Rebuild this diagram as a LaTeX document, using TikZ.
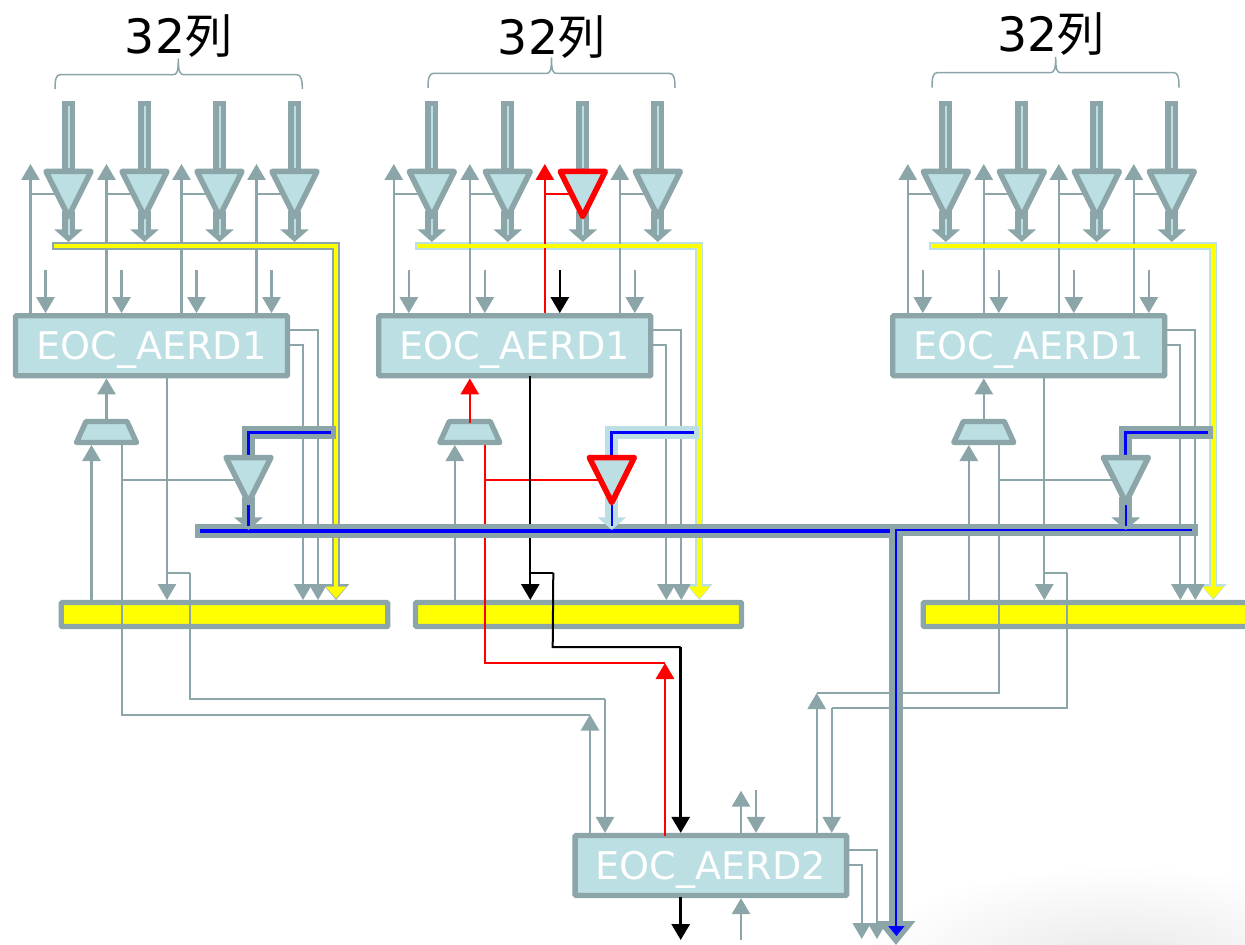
\documentclass[tikz,border=0pt]{standalone}
\usepackage{fontspec}
\setmainfont{DejaVu Sans}
\newfontfamily\cjkf{Noto Sans CJK JP}
\usetikzlibrary{arrows.meta,shapes.geometric}
\newdimen\px \px=0.75pt
\newcommand\dotbox{\phantom{\rule{1pt}{1pt}}}
\definecolor{gc}{HTML}{8BA5A8}
\definecolor{lb}{HTML}{BBDFE2}
\definecolor{yl}{RGB}{255,255,0}
\definecolor{rd}{RGB}{255,0,0}
\definecolor{bl}{RGB}{0,0,255}
\pgfdeclarelayer{bgl}\pgfdeclarelayer{ybus}\pgfdeclarelayer{busl}\pgfdeclarelayer{overl}\pgfdeclarelayer{tril}
\pgfsetlayers{bgl,ybus,main,busl,overl,tril}
\tikzset{
  box/.style={rectangle,draw=gc,fill=lb,line width=5.3\px,rounded corners=1\px,minimum width=272\px,minimum height=60\px,inner sep=0pt,
    text=white,font=\fontsize{28.6pt}{30pt}\selectfont,text height=20.25pt,text depth=0pt},
  ybar/.style={rectangle,draw=gc,fill=yl,line width=5.3\px,rounded corners=1\px,minimum width=326.5\px,minimum height=24\px,inner sep=0pt},
  mux/.style={trapezium,trapezium stretches,trapezium left angle=77,trapezium right angle=77,draw=gc,fill=lb,line width=5.3\px,line join=round,
    minimum width=60\px,minimum height=21\px,inner sep=0pt,outer sep=0pt},
  tribuf/.style={isosceles triangle,isosceles triangle stretches,shape border rotate=-90,minimum width=45\px,minimum height=45\px,
    inner sep=0pt,outer sep=0pt,fill=lb,draw=#1,line width=5.5\px,line join=round,anchor=lower side},
  arr/.style={draw=#1,line width=2.3\px,-{Triangle[length=12pt,width=13.6pt]}},
  arr/.default=gc,
  wire/.style={draw=#1,line width=2\px},
  wire/.default=gc,
  thickw/.style={draw=gc,line width=13\px},
  thicka/.style={draw=#1,line width=13\px,shorten <=-4pt,-{Triangle[length=9.5pt,width=21pt]}},
  stripe/.style={draw=#1,line width=2\px},
  brace/.style={draw=gc,line width=1.5\px,line join=round},
  title/.style={anchor=base west,inner sep=0pt,font=\fontsize{35.5pt}{40pt}\selectfont,text=black},
}
% prefix, index, x, triangle colour, up colour, down colour
\newcommand\colblock[6]{%
  \coordinate (#1-top#2) at (#3,101);
  \coordinate (#1-tip#2) at (#3,242);
  \coordinate (#1-up#2) at (#3-38,164);
  \coordinate (#1-dn#2) at (#3-23,270);
  \begin{pgfonlayer}{tril}\node[tribuf=#4] (#1-t#2) at (#3,171.5) {\dotbox};\end{pgfonlayer}
  \draw[thickw] (#1-top#2) -- (#1-t#2.lower side);
  \draw[stripe=lb] (#3,106) -- (#3,168);
  \draw[thicka=gc] (#1-t#2.apex) -- (#1-tip#2);
  \draw[stripe=lb] (#3,218) -- (#3,235);
  \draw[arr=#5] (#1-box.north -| #1-up#2) -- (#1-up#2);
  \draw[wire=#5] (#1-t#2.right side) -- (#1-up#2 |- #1-t#2.right side);
  \draw[arr=#6] (#1-dn#2) -- (#1-dn#2 |- #1-box.north);
}
% prefix, dx, configured through \CY \CFeed \CFeedTri \CMux \CData \CTop \CThTri \CThUp \CThDn
\newcommand\groupblock[2]{%
  \begin{scope}[xshift=#2*0.75pt]
  \begin{pgfonlayer}{ybus}
    \node[box] (#1-box) at (151.5,345.75) {EOC\_AERD1};
    \node[mux] (#1-mux) at (106.5,432) {\dotbox};
    \coordinate (#1-ys) at (52,246);
    \coordinate (#1-yc) at (336,246);
    \coordinate (#1-ye) at (336,600);
    \draw[draw=\CY,line width=8\px,line join=miter,-{Triangle[length=12pt,width=19pt,fill=\CY]}] (#1-ys) -- (#1-yc) -- (#1-ye);
  \end{pgfonlayer}
  \begin{pgfonlayer}{busl}
    \draw[draw=yl,line width=4.8\px,line join=miter] (53.5,246) -- (#1-yc) -- (336,590);
    \fill[yl] (325.5,586.5) -- (346.5,586.5) -- (336,598.5) -- cycle;
  \end{pgfonlayer}
  \colblock{#1}{1}{68.5}{gc}{gc}{gc}
  \colblock{#1}{2}{144.5}{gc}{gc}{gc}
  \colblock{#1}{3}{219.5}{\CThTri}{\CThUp}{\CThDn}
  \colblock{#1}{4}{294.5}{gc}{gc}{gc}
  % box outputs to the bar
  \coordinate (#1-o1c) at (318,330);
  \coordinate (#1-o2c) at (303,345);
  \coordinate (#1-o1) at (318,600);
  \coordinate (#1-o2) at (303,600);
  \draw[arr,line width=2\px] (#1-box.east |- #1-o1c) -- (#1-o1c) -- (#1-o1);
  \draw[arr,line width=2\px] (#1-box.east |- #1-o2c) -- (#1-o2c) -- (#1-o2);
  % mux
  \draw[arr=\CTop,shorten <=-1pt] (#1-mux.north) -- (#1-mux.north |- #1-box.south);
  \coordinate (#1-muxin) at (91.5,445);
  \draw[arr] (#1-muxin |- #1-bar.north) -- (#1-muxin);
  \coordinate (#1-mw) at (121.7,445);
  \coordinate (#1-mb) at (121.7,480);
  % feed buffer
  \begin{pgfonlayer}{tril}\node[tribuf=\CFeedTri] (#1-f) at (248.5,457.5) {\dotbox};\end{pgfonlayer}
  \draw[wire=\CMux] (#1-mb) -- (#1-f.right side);
  % data wire
  \coordinate (#1-db) at (167,572.5);
  \coordinate (#1-dc) at (190,572.5);
  \coordinate (#1-dt) at (167,600);
  \draw[arr=\CData,shorten <=-2pt] (#1-box.south -| #1-dt) -- (#1-dt);
  \draw[wire=\CData] (#1-db) -- (#1-dc);
  % feed band
  \coordinate (#1-fs) at (336,432.7);
  \coordinate (#1-fc) at (248.5,432.7);
  \begin{pgfonlayer}{busl}
    \draw[draw=\CFeed,line width=13\px,line join=miter] (#1-fs) -- (#1-fc) -- (#1-f.lower side);
    \draw[draw=bl,line width=3\px,line join=miter] (331,432.7) -- (#1-fc) -- (#1-f.lower side);
  \end{pgfonlayer}
  \coordinate (#1-ft) at (248.5,530);
  \begin{pgfonlayer}{overl}
    \draw[thicka=\CFeed] (#1-f.apex) -- (#1-ft);
    \draw[draw=bl,line width=2.5\px] (248.5,505) -- (248.5,526);
  \end{pgfonlayer}
  \end{scope}
}
\begin{document}
\begin{tikzpicture}[x=0.75pt,y=-0.75pt]
\useasboundingbox (0,0) rectangle (1245,945);
\begin{pgfonlayer}{bgl}
  \shade[inner color=black!9,outer color=white] (1120,965) ellipse [x radius=260,y radius=100];
\end{pgfonlayer}
% titles and braces
\node[title] (ti1) at (124.7,54) {32{\cjkf 列}};
\node[title] (ti2) at (497.7,55) {32{\cjkf 列}};
\node[title] (ti3) at (997,52) {32{\cjkf 列}};
\draw[brace] (55,89) .. controls (55,80) and (56,74.7) .. (60,74.7) -- (173,74.7) .. controls (177,74.7) and (178.3,72) .. (178.3,59)
  .. controls (178.3,72) and (180,74.7) .. (184,74.7) -- (297,74.7) .. controls (301,74.7) and (302.3,80) .. (302.3,89);
\draw[brace] (428,88) .. controls (428,79) and (429,73.5) .. (433,73.5) -- (546,73.5) .. controls (550,73.5) and (551.5,71) .. (551.5,58)
  .. controls (551.5,71) and (553,73.5) .. (557,73.5) -- (670,73.5) .. controls (674,73.5) and (675,79) .. (675,88);
\draw[brace] (932,87.7) .. controls (932,78) and (933,72.7) .. (937,72.7) -- (1050,72.7) .. controls (1054,72.7) and (1055.7,70) .. (1055.7,57.3)
  .. controls (1055.7,70) and (1057,72.7) .. (1061,72.7) -- (1174,72.7) .. controls (1178,72.7) and (1179,78) .. (1179,87.7);
% bars and second-level box
\begin{pgfonlayer}{ybus}
  \node[ybar] (g1-bar) at (224.5,614.5) {};
  \node[ybar,minimum width=326\px] (g2-bar) at (578.5,614.5) {};
  \node[ybar] (g3-bar) at (1086.5,614.5) {};
  \node[box,minimum width=271.5\px] (b2) at (710.85,865.5) {EOC\_AERD2};
\end{pgfonlayer}
% groups
\def\CY{gc}\def\CFeed{gc}\def\CFeedTri{gc}\def\CMux{gc}\def\CData{gc}\def\CTop{gc}\def\CThTri{gc}\def\CThUp{gc}\def\CThDn{gc}
\groupblock{g1}{0}
\def\CY{lb}\def\CFeed{lb}\def\CFeedTri{rd}\def\CMux{rd}\def\CData{black}\def\CTop{rd}\def\CThTri{rd}\def\CThUp{rd}\def\CThDn{black}
\groupblock{g2}{363.3}
\def\CY{lb}\def\CFeed{gc}\def\CFeedTri{gc}\def\CMux{gc}\def\CData{gc}\def\CTop{gc}\def\CThTri{gc}\def\CThUp{gc}\def\CThDn{gc}
\groupblock{g3}{877.3}
% main bus
\coordinate (busL) at (195,531);
\coordinate (busJ) at (896,531);
\coordinate (busR) at (1198,530.2);
\coordinate (busTop) at (896,524);
\coordinate (busTip) at (896,945);
\coordinate (blueJ) at (896.4,530);
\coordinate (blueR) at (1192,530);
\coordinate (blueTip) at (896.4,936);
\begin{pgfonlayer}{busl}
  \draw[draw=gc,line width=14\px] (busL) -- (busJ);
  \draw[draw=gc,line width=12.5\px] (busJ |- busR) -- (busR);
  \draw[draw=gc,line width=14\px,-{Triangle[length=18pt,width=28pt]}] (busTop) -- (busTip);
  \draw[draw=bl,line width=4\px] (200,531) -- (890,531);
  \draw[draw=bl,line width=2\px,line join=miter,-{Triangle[length=7.5pt,width=12pt]}] (blueR) -- (blueJ) -- (blueTip);
\end{pgfonlayer}
% second-level connections
\coordinate (a1) at (590,714.5);
\coordinate (a2) at (605,698.5);
\coordinate (a3) at (665,663);
\coordinate (a4) at (680.7,647);
\coordinate (a5) at (741,790.7);
\coordinate (a6) at (756,790);
\coordinate (a7) at (816.7,693);
\coordinate (a8) at (831.7,708);
\coordinate (a9) at (680.7,940);
\coordinate (a10) at (741,940);
\coordinate (o1c) at (877,850);
\coordinate (o2c) at (861.7,865);
\coordinate (o1) at (877,939);
\coordinate (o2) at (861.7,939);
\draw[arr] (a1 |- b2.north) -- (a1);
\draw[arr] (a2) -- (a2 |- b2.north);
\draw[arr=rd,shorten <=-2pt,line width=2.7\px] (a3 |- b2.north) -- (a3);
\draw[arr=black,line width=2.7\px] (a4) -- (a4 |- b2.north);
\draw[arr] (a5 |- b2.north) -- (a5);
\draw[arr] (a6) -- (a6 |- b2.north);
\draw[arr] (a7 |- b2.north) -- (a7);
\draw[arr] (a8) -- (a8 |- b2.north);
\draw[arr=black,line width=2.7\px,shorten <=-1pt] (a9 |- b2.south) -- (a9);
\draw[arr] (a10) -- (a10 |- b2.south);
\draw[arr,line width=2\px] (b2.east |- o1c) -- (o1c) -- (o1);
\draw[arr,line width=2\px] (b2.east |- o2c) -- (o2c) -- (o2);
% long wires between groups and second level
\draw[wire] (g1-mw) |- (a1);
\draw[wire] (g1-dc) |- (a2);
\draw[wire=rd] (g2-mw) |- (a3);
\coordinate (b4) at (552.7,647);
\draw[wire=black] (g2-dc) -- (b4) -- (a4);
\draw[wire] (g3-mw) |- (a7);
\draw[wire] (g3-dc) |- (a8);
\end{tikzpicture}
\end{document}
